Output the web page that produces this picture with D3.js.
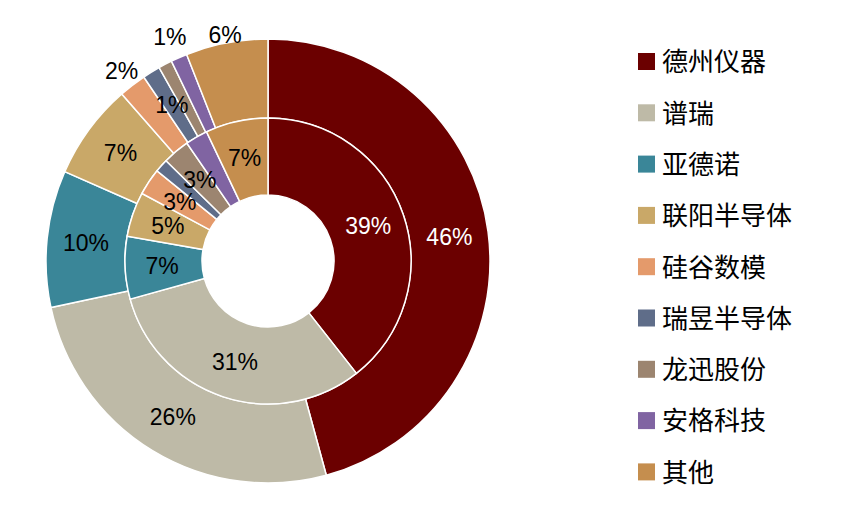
<!DOCTYPE html>
<html><head><meta charset="utf-8">
<script src="https://cdn.jsdelivr.net/npm/d3@7"></script>
<style>body{margin:0;background:#fff}</style></head>
<body><svg id="c" width="856" height="519"></svg>
<script>
const categories=["德州仪器","谱瑞","亚德诺","联阳半导体","硅谷数模","瑞昱半导体","龙迅股份","安格科技","其他"];
const outerValues=[46,26,10,7,2,1.3,1,1.2,6];
const outerLabels=["46%","26%","10%","7%","2%","1%","","1%","6%"];
const innerValues=[39,31,7,5,3,1.5,3,2.5,7];
const innerLabels=["39%","31%","7%","5%","3%","","3%","","7%"];
const colors=["#6B0000","#BEBAA7","#3A8698","#C9A868","#E49A6B","#5F6D89","#9C8570","#8064A2","#C58E4E"];
const svg=d3.select("#c"), g=svg.append("g").attr("transform","translate(268,261)");
const pie=d3.pie().sort(null).value(d=>d);
function ring(vals,labs,r0,r1,lr,outside){
  const arcs=pie(vals), arc=d3.arc().innerRadius(r0).outerRadius(r1);
  g.selectAll(null).data(arcs).enter().append("path").attr("d",arc)
   .attr("fill",(d,i)=>colors[i]).attr("stroke","#fff").attr("stroke-width",1.5);
  arcs.forEach((d,i)=>{ if(!labs[i])return;
    const a=(d.startAngle+d.endAngle)/2, r=(outside[i]||lr);
    g.append("text").attr("x",r*Math.sin(a)).attr("y",-r*Math.cos(a)).attr("dy","0.35em")
     .attr("text-anchor","middle").attr("font-family","Liberation Sans, Arial").attr("font-size",23)
     .attr("fill",i===0?"#fff":"#000").text(labs[i]);});
}
ring(outerValues,outerLabels,143,222,183,{4:240,7:245,8:230});
ring(innerValues,innerLabels,66,143,106,{});
const lg=svg.append("g");
categories.forEach((c,i)=>{const y=62+i*51.3;
  lg.append("rect").attr("x",638).attr("y",y-9).attr("width",17).attr("height",17).attr("fill",colors[i]);
  lg.append("text").attr("x",662).attr("y",y).attr("dy","0.36em").attr("font-family","Noto Sans CJK SC")
   .attr("font-size",26).attr("fill","#000").text(c);});
</script></body></html>
